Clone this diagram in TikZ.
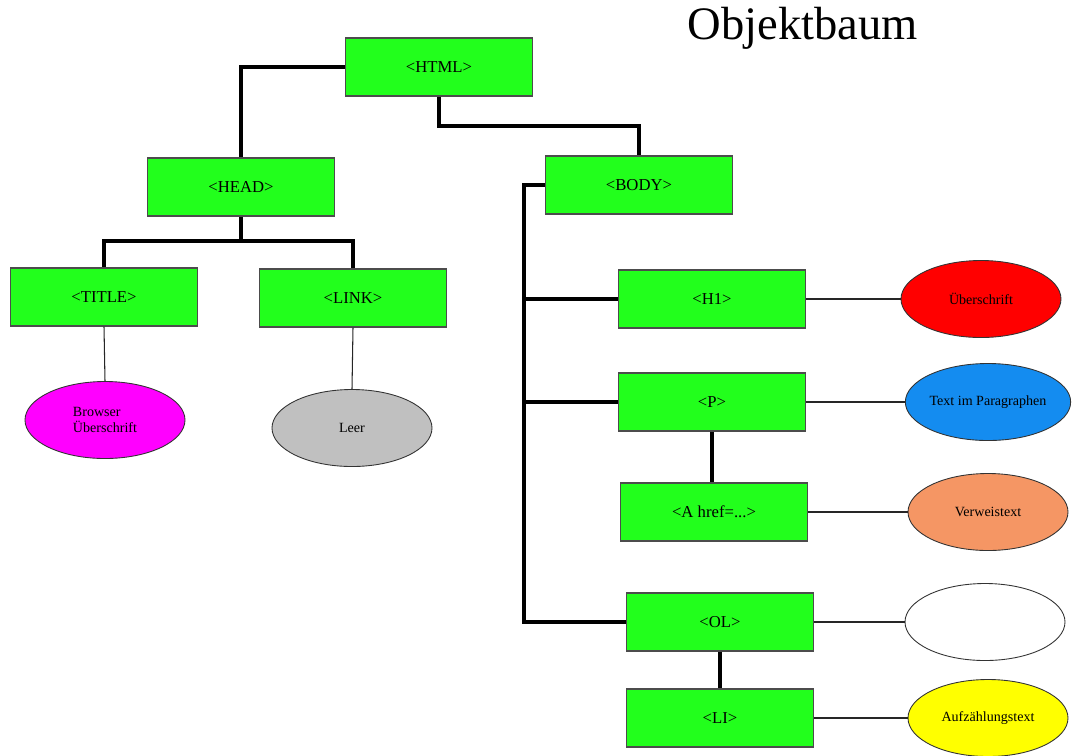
\documentclass[tikz,border=0pt]{standalone}
\usepackage{fontspec}
\setmainfont{Liberation Serif}
\usetikzlibrary{shapes.geometric}
\definecolor{boxgreen}{RGB}{34,255,28}
\definecolor{elred}{RGB}{255,0,0}
\definecolor{elblue}{RGB}{20,140,240}
\definecolor{elorange}{RGB}{245,150,100}
\definecolor{elmag}{RGB}{255,0,255}
\definecolor{elgray}{RGB}{192,192,192}
\definecolor{elyellow}{RGB}{255,255,0}
\tikzset{
  tagbox/.style={draw=black!70, line width=0.6pt, fill=boxgreen, minimum width=187*0.02cm, minimum height=58*0.02cm, inner sep=0pt, font=\fontsize{9.5}{11}\selectfont},
  leaf/.style={ellipse, draw=black!80, line width=0.5pt, minimum width=160*0.02cm, minimum height=77*0.02cm, inner sep=0pt, font=\fontsize{8}{9.5}\selectfont, align=left},
  thick link/.style={line width=2.8pt, line join=miter},
  thin link/.style={line width=0.6pt, black!85}
}
\begin{document}
\begin{tikzpicture}[x=0.02cm, y=-0.02cm]
\useasboundingbox (0,0) rectangle (1075,755);
\node[font=\fontsize{26.5}{30}\selectfont, anchor=center] (title) at (803,28) {Objektbaum};
\node[tagbox] (html) at (439,67) {<HTML>};
\node[tagbox] (head) at (241,187) {<HEAD>};
\node[tagbox] (body) at (639,185) {<BODY>};
\node[tagbox] (titlet) at (104,297) {<TITLE>};
\node[tagbox] (link) at (353,298) {<LINK>};
\node[tagbox] (h1) at (712,299) {<H1>};
\node[tagbox] (p) at (712,402) {<P>};
\node[tagbox] (a) at (714,512) {<A href=...>};
\node[tagbox] (ol) at (720,622) {<OL>};
\node[tagbox] (li) at (720,718) {<LI>};
\node[leaf, fill=elmag] (e1) at (105,420) {Browser\\Überschrift};
\node[leaf, fill=elgray] (e2) at (352,428) {Leer};
\node[leaf, fill=elred] (e3) at (981,299) {Überschrift};
\node[leaf, fill=elblue] (e4) at (988,402) {Text im Paragraphen};
\node[leaf, fill=elorange] (e5) at (988,512) {Verweistext};
\node[leaf, fill=white] (e6) at (985,622) {};
\node[leaf, fill=elyellow] (e7) at (988,718) {Aufzählungstext};
% thick tree connectors
\coordinate (bl) at (524,185);
\draw[thick link] (html.west) -| (head.north);
\draw[thick link] (html.south) |- (639,126) -- (body.north);
\draw[thick link] (head.south) -- (241,241) -| (titlet.north);
\draw[thick link] (241,241) -| (link.north);
\draw[thick link] (body.west) -- (bl) |- (ol.west);
\draw[thick link] (bl |- h1.west) -- (h1.west);
\draw[thick link] (bl |- p.west) -- (p.west);
\draw[thick link] (p.south) -- (p.south |- a.north);
\draw[thick link] (ol.south) -- (li.north);
% thin connectors
\draw[thin link] (titlet.south) -- (e1.north);
\draw[thin link] (link.south) -- (e2.north);
\draw[thin link] (h1.east) -- (e3.west);
\draw[thin link] (p.east) -- (e4.west);
\draw[thin link] (a.east) -- (e5.west);
\draw[thin link] (ol.east) -- (e6.west);
\draw[thin link] (li.east) -- (e7.west);
\end{tikzpicture}
\end{document}
